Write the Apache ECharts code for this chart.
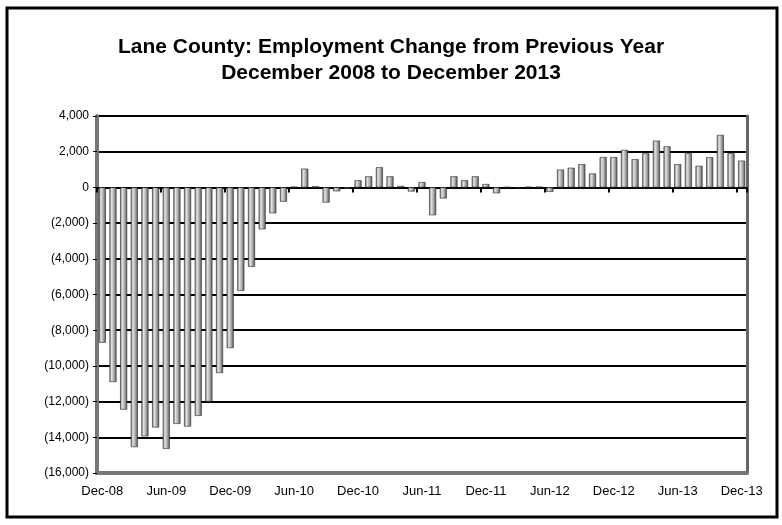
<!DOCTYPE html>
<html>
<head>
<meta charset="utf-8">
<script src="https://cdn.jsdelivr.net/npm/echarts@6/dist/echarts.min.js"></script>
<style>
  html, body { margin: 0; padding: 0; background: #fff; }
  #chart { width: 782px; height: 525px; }
</style>
</head>
<body>
<div id="chart"></div>
<script>
// Month labels, December 2008 through December 2013
const months = [
  'Dec-08',
  'Jan-09','Feb-09','Mar-09','Apr-09','May-09','Jun-09','Jul-09','Aug-09','Sep-09','Oct-09','Nov-09','Dec-09',
  'Jan-10','Feb-10','Mar-10','Apr-10','May-10','Jun-10','Jul-10','Aug-10','Sep-10','Oct-10','Nov-10','Dec-10',
  'Jan-11','Feb-11','Mar-11','Apr-11','May-11','Jun-11','Jul-11','Aug-11','Sep-11','Oct-11','Nov-11','Dec-11',
  'Jan-12','Feb-12','Mar-12','Apr-12','May-12','Jun-12','Jul-12','Aug-12','Sep-12','Oct-12','Nov-12','Dec-12',
  'Jan-13','Feb-13','Mar-13','Apr-13','May-13','Jun-13','Jul-13','Aug-13','Sep-13','Oct-13','Nov-13','Dec-13'
];

// Over-the-year change in nonfarm employment (jobs)
const employmentChange = [
  -8700,
  -10900, -12450, -14550, -13950, -13450, -14650, -13250, -13400, -12800, -12000, -10400, -9000,
  -5800, -4450, -2350, -1450, -800, 40, 1050, 60, -850, -220, -60, 400,
  620, 1130, 620, 80, -230, 300, -1560, -620, 620, 400, 620, 190,
  -330, 20, -30, 30, 40, -250, 1000, 1100, 1300, 780, 1700, 1700,
  2100, 1580, 1910, 2620, 2300, 1300, 1910, 1210, 1690, 2940, 1910, 1500
];

// Value axis range and step
const yMin = -16000;
const yMax = 4000;
const yStep = 2000;

function fmtTick(v) {
  const s = Math.abs(v).toLocaleString('en-US');
  return v < 0 ? '(' + s + ')' : s;
}

const chart = echarts.init(document.getElementById('chart'), null, { renderer: 'canvas' });

const cylinder = new echarts.graphic.LinearGradient(0, 0, 1, 0, [
  { offset: 0, color: '#6a6a6a' },
  { offset: 0.3, color: '#e4e4e4' },
  { offset: 0.6, color: '#b0b0b0' },
  { offset: 1, color: '#555555' }
]);

chart.setOption({
  animation: false,
  backgroundColor: '#ffffff',
  textStyle: { fontFamily: 'Liberation Sans, Arial, sans-serif' },
  title: {
    text: 'Lane County: Employment Change from Previous Year\nDecember 2008 to December 2013',
    left: 'center',
    top: 29,
    textStyle: {
      fontFamily: 'Liberation Sans, Arial, sans-serif',
      fontWeight: 'bold',
      fontSize: 21,
      lineHeight: 26,
      color: '#000'
    }
  },
  graphic: [{
    type: 'rect',
    shape: { x: 7, y: 8, width: 770, height: 509 },
    style: { fill: 'none', stroke: '#000', lineWidth: 3 },
    silent: true
  }],
  grid: { left: 97, right: 35, top: 116, bottom: 52 },
  xAxis: [{
    type: 'category',
    data: months,
    position: 'bottom',
    boundaryGap: true,
    axisLine: { onZero: false, lineStyle: { color: '#777', width: 4 } },
    axisTick: { show: false },
    axisLabel: {
      interval: 5,
      color: '#000',
      fontSize: 13,
      margin: 12,
      fontFamily: 'Liberation Sans, Arial, sans-serif'
    },
    splitLine: { show: false }
  }, {
    type: 'category',
    data: months,
    position: 'bottom',
    boundaryGap: true,
    axisLine: { onZero: true, lineStyle: { color: '#000', width: 2 } },
    axisTick: { show: true, interval: 5, length: 5, lineStyle: { color: '#000', width: 2 } },
    axisLabel: { show: false },
    splitLine: { show: false }
  }],
  yAxis: [{
    type: 'value',
    min: yMin,
    max: yMax,
    interval: yStep,
    axisLine: { show: true, lineStyle: { color: '#777', width: 4 } },
    axisTick: { show: true, length: 4, lineStyle: { color: '#000', width: 1 } },
    axisLabel: {
      formatter: fmtTick,
      color: '#000',
      fontSize: 12,
      margin: 8,
      fontFamily: 'Liberation Sans, Arial, sans-serif'
    },
    splitLine: { show: true, lineStyle: { color: '#000', width: 2 } }
  }, {
    type: 'value',
    position: 'right',
    min: yMin,
    max: yMax,
    interval: yStep,
    axisLine: { show: true, lineStyle: { color: '#666', width: 3 } },
    axisTick: { show: false },
    axisLabel: { show: false },
    splitLine: { show: false }
  }],
  series: [{
    type: 'bar',
    xAxisIndex: 1,
    yAxisIndex: 0,
    data: employmentChange,
    barWidth: 7,
    z: 3,
    itemStyle: {
      color: cylinder,
      borderColor: '#2a2a2a',
      borderWidth: 0.6
    }
  }]
});
</script>
</body>
</html>
